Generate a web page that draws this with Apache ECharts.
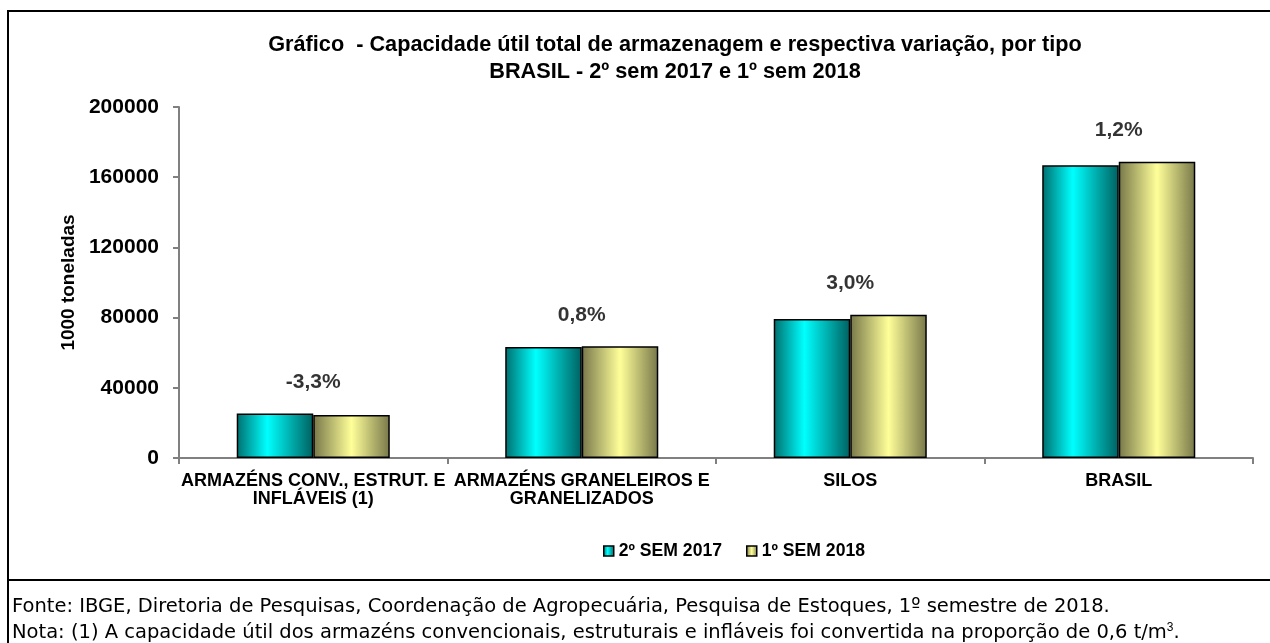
<!DOCTYPE html>
<html>
<head>
<meta charset="utf-8">
<script src="https://cdn.jsdelivr.net/npm/echarts@6/dist/echarts.min.js"></script>
<style>
  html, body { margin: 0; padding: 0; background: #fff; }
  #chart { width: 1270px; height: 643px; }
</style>
</head>
<body>
<div id="chart"></div>
<script>
// dados (1000 t)
const categorias = ['ARMAZÉNS CONV., ESTRUT. E\nINFLÁVEIS (1)', 'ARMAZÉNS GRANELEIROS E\nGRANELIZADOS', 'SILOS', 'BRASIL']
const sem2017 = [25400, 63200, 79200, 166800]
const sem2018 = [24560, 63700, 81580, 168800]
const variacao = ['-3,3%', '0,8%', '3,0%', '1,2%']
const serieNomes = ['2º SEM 2017', '1º SEM 2018']

const fonte = 'Liberation Sans, Arial, sans-serif'

const cyanGrad = new echarts.graphic.LinearGradient(0, 0, 1, 0, [
  { offset: 0, color: '#006e6e' },
  { offset: 0.4, color: '#00ffff' },
  { offset: 1, color: '#006060' }
])
const yellowGrad = new echarts.graphic.LinearGradient(0, 0, 1, 0, [
  { offset: 0, color: '#77774a' },
  { offset: 0.5, color: '#ffff99' },
  { offset: 1, color: '#77774a' }
])

const topos = sem2017.map((v, i) => Math.max(v, sem2018[i]))

const chart = echarts.init(document.getElementById('chart'))
chart.setOption({
  animation: false,
  textStyle: { fontFamily: fonte },
  title: {
    text: 'Gráfico  - Capacidade útil total de armazenagem e respectiva variação, por tipo\nBRASIL - 2º sem 2017 e 1º sem 2018',
    left: 670,
    top: 27,
    textAlign: 'center',
    textStyle: { fontSize: 21.7, fontWeight: 'bold', color: '#000', lineHeight: 27 }
  },
  legend: {
    data: serieNomes,
    icon: 'rect',
    left: 598,
    top: 537,
    itemWidth: 10,
    itemHeight: 10,
    itemGap: 24,
    textStyle: { fontSize: 17.6, fontWeight: 'bold', color: '#000' },
    itemStyle: { borderColor: '#000', borderWidth: 1.5 }
  },
  grid: { left: 179, right: 17, top: 107, bottom: 185 },
  xAxis: {
    type: 'category',
    data: categorias,
    axisLine: { lineStyle: { color: '#808080', width: 2 } },
    axisTick: { show: true, length: 6, lineStyle: { color: '#808080', width: 2 } },
    axisLabel: { fontSize: 18, fontWeight: 'bold', color: '#000', margin: 14, lineHeight: 18, interval: 0 }
  },
  yAxis: {
    type: 'value',
    min: 0,
    max: 200000,
    interval: 40000,
    name: '1000 toneladas',
    nameLocation: 'middle',
    nameGap: 100,
    nameRotate: 90,
    nameTextStyle: { fontSize: 19, fontWeight: 'bold', color: '#000' },
    axisLine: { show: true, lineStyle: { color: '#808080', width: 2 } },
    axisTick: { show: true, length: 6, lineStyle: { color: '#808080', width: 2 } },
    splitLine: { show: false },
    axisLabel: { fontSize: 21, fontWeight: 'bold', color: '#000', margin: 20, formatter: v => String(v) }
  },
  series: [
    {
      name: serieNomes[0],
      type: 'bar',
      data: sem2017,
      barGap: '0%',
      barCategoryGap: '43%',
      itemStyle: { color: cyanGrad, borderColor: '#000', borderWidth: 1.5 }
    },
    {
      name: serieNomes[1],
      type: 'bar',
      data: sem2018,
      itemStyle: { color: yellowGrad, borderColor: '#000', borderWidth: 1.5 }
    },
    {
      name: 'variacao',
      type: 'scatter',
      data: topos,
      symbolSize: 0,
      silent: true,
      label: {
        show: true,
        position: 'top',
        distance: 21,
        formatter: p => variacao[p.dataIndex],
        fontSize: 21,
        fontWeight: 'bold',
        color: '#000'
      }
    }
  ],
  graphic: [
    { type: 'line', shape: { x1: 8, y1: 11, x2: 1270, y2: 11 }, style: { stroke: '#000', lineWidth: 2 } },
    { type: 'line', shape: { x1: 8, y1: 10, x2: 8, y2: 643 }, style: { stroke: '#000', lineWidth: 2 } },
    { type: 'line', shape: { x1: 8, y1: 580, x2: 1270, y2: 580 }, style: { stroke: '#000', lineWidth: 2 } },
    {
      type: 'text', left: 12, top: 597,
      style: { text: 'Fonte: IBGE, Diretoria de Pesquisas, Coordenação de Agropecuária, Pesquisa de Estoques, 1º semestre de 2018.', fontSize: 19.5, fontFamily: 'DejaVu Sans, sans-serif', fill: '#000' }
    },
    {
      type: 'text', left: 12, top: 622,
      style: {
        text: 'Nota: (1) A capacidade útil dos armazéns convencionais, estruturais e infláveis foi convertida na proporção de 0,6 t/m{s|3}.',
        fontSize: 19.5, fontFamily: 'DejaVu Sans, sans-serif', fill: '#000',
        rich: { s: { fontSize: 12, verticalAlign: 'top', padding: [0, 0, 10, 0] } }
      }
    }
  ]
})
</script>
</body>
</html>
